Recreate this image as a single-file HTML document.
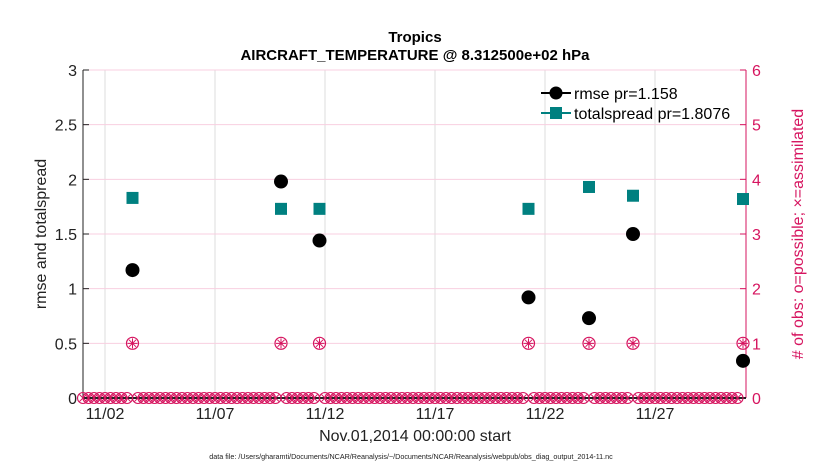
<!DOCTYPE html>
<html><head><meta charset="utf-8"><style>
body{margin:0;background:#fff;font-family:"Liberation Sans",sans-serif}
svg text{font-family:"Liberation Sans",sans-serif}
</style></head><body>
<svg id="c" width="830" height="470" xmlns="http://www.w3.org/2000/svg">
<rect x="83" y="70" width="663" height="328" fill="#fff" stroke="none"/>
<g id="grid"></g>
<g id="axes"></g>
<g id="marks"></g>
<text x="415" y="42" text-anchor="middle" font-size="15" font-weight="bold">Tropics</text>
<text x="415" y="60" text-anchor="middle" font-size="15" font-weight="bold">AIRCRAFT_TEMPERATURE @ 8.312500e+02 hPa</text>
<text x="415" y="441" text-anchor="middle" font-size="16" fill="#222">Nov.01,2014 00:00:00 start</text>
<text transform="translate(46,234) rotate(-90)" text-anchor="middle" font-size="16" fill="#222">rmse and totalspread</text>
<text transform="translate(803,234) rotate(-90)" text-anchor="middle" font-size="16" fill="#d6145f"># of obs: o=possible; ×=assimilated</text>
<text x="411" y="459" text-anchor="middle" font-size="7.2" fill="#222">data file: /Users/gharamti/Documents/NCAR/Reanalysis/~/Documents/NCAR/Reanalysis/webpub/obs_diag_output_2014-11.nc</text>
<g>
<line x1="541" y1="93" x2="571" y2="93" stroke="#000" stroke-width="2"/>
<circle cx="556" cy="93" r="6.5" fill="#000"/>
<text x="574" y="99" font-size="16">rmse pr=1.158</text>
<line x1="541" y1="113" x2="571" y2="113" stroke="#008080" stroke-width="2"/>
<rect x="550" y="107" width="12" height="12" fill="#008080"/>
<text x="574" y="119" font-size="16">totalspread pr=1.8076</text>
</g>
</svg>
<script>
const rmseDays=[2.25,9.0,10.75,20.25,23.0,25.0,30.0];
const rmseVals=[1.17,1.98,1.44,0.92,0.73,1.50,0.34];
const spreadDays=[2.25,9.0,10.75,20.25,23.0,25.0,30.0];
const spreadVals=[1.83,1.73,1.73,1.73,1.93,1.85,1.82];
const obsCounts=[1,1,1,1,1,1,1];
const xTickLabels=["11/02","11/07","11/12","11/17","11/22","11/27"];
const xTickDays=[1,6,11,16,21,26];
const yTicks=[0,0.5,1,1.5,2,2.5,3];
const y2Ticks=[0,1,2,3,4,5,6];
const NS="http://www.w3.org/2000/svg";
const X0=83,X1=746,Y0=398,Y1=70;
const xs=d=>X0+d*22;
const ys=v=>Y0-(v/3)*(Y0-Y1);
const ys2=v=>Y0-(v/6)*(Y0-Y1);
function mk(p,t,a){const e=document.createElementNS(NS,t);for(const k in a)e.setAttribute(k,a[k]);p.appendChild(e);return e;}
const grid=document.getElementById('grid'),axes=document.getElementById('axes'),marks=document.getElementById('marks');
xTickDays.forEach((d,i)=>{
 const g=mk(grid,'line',{x1:xs(d),x2:xs(d),y1:Y1,y2:Y0,stroke:'#ddd'});
 
 
 const t=mk(axes,'text',{x:xs(d),y:Y0+21,'text-anchor':'middle','font-size':16,fill:'#222'});
 t.textContent=xTickLabels[i];
 
 
});
yTicks.forEach(v=>{
 const g=mk(grid,'line',{x1:X0,x2:X1,y1:ys(v),y2:ys(v),stroke:'#f8cfe0'});
 
 
 mk(axes,'line',{x1:X0,x2:X0+6,y1:ys(v),y2:ys(v),stroke:'#222'});
 const t=mk(axes,'text',{x:X0-6,y:ys(v)+6,'text-anchor':'end','font-size':16,fill:'#222'});
 t.textContent=String(v);
 
 
});
y2Ticks.forEach(v=>{
 mk(axes,'line',{x1:X1-6,x2:X1,y1:ys2(v),y2:ys2(v),stroke:'#d6145f'});
 const t=mk(axes,'text',{x:X1+6,y:ys2(v)+6,'font-size':16,fill:'#d6145f'});
 t.textContent=String(v);
 
 
});
mk(axes,'line',{x1:X0,x2:X0,y1:Y1,y2:Y0,stroke:'#222'});
mk(axes,'line',{x1:X1,x2:X1,y1:Y1,y2:Y0,stroke:'#d6145f'});
mk(axes,'line',{x1:X0,x2:X1,y1:Y0,y2:Y0,stroke:'#222','stroke-width':2});
const obsSet=new Set(rmseDays.map(d=>Math.round(d*4)));
for(let k=0;k<=120;k++){
 if(obsSet.has(k))continue;
 const cx=xs(k/4),c=ys2(0);
 const g=mk(marks,'g',{});
 
 
 mk(g,'circle',{cx:cx,cy:c,r:5.5,fill:'none',stroke:'#d6145f','stroke-width':1.1});
 mk(g,'path',{d:`M${cx-3.5},${c-3.5}L${cx+3.5},${c+3.5}M${cx-3.5},${c+3.5}L${cx+3.5},${c-3.5}`,stroke:'#d6145f','stroke-width':0.9});
}
rmseDays.forEach((d,i)=>{
 const cx=xs(d),cy=ys2(obsCounts[i]);
 const g=mk(marks,'g',{});
 
 
 mk(g,'circle',{cx:cx,cy:cy,r:6,fill:'none',stroke:'#d6145f','stroke-width':1.2});
 mk(g,'path',{d:`M${cx-5},${cy}L${cx+5},${cy}M${cx},${cy-5}L${cx},${cy+5}M${cx-3.5},${cy-3.5}L${cx+3.5},${cy+3.5}M${cx-3.5},${cy+3.5}L${cx+3.5},${cy-3.5}`,stroke:'#d6145f','stroke-width':1});
});
spreadDays.forEach((d,i)=>{
 const r=mk(marks,'rect',{x:xs(d)-6,y:ys(spreadVals[i])-6,width:12,height:12,fill:'#008080'});
 
 
});
rmseDays.forEach((d,i)=>{
 const c=mk(marks,'circle',{cx:xs(d),cy:ys(rmseVals[i]),r:7,fill:'#000'});
 
 
});
</script>
</body></html>
